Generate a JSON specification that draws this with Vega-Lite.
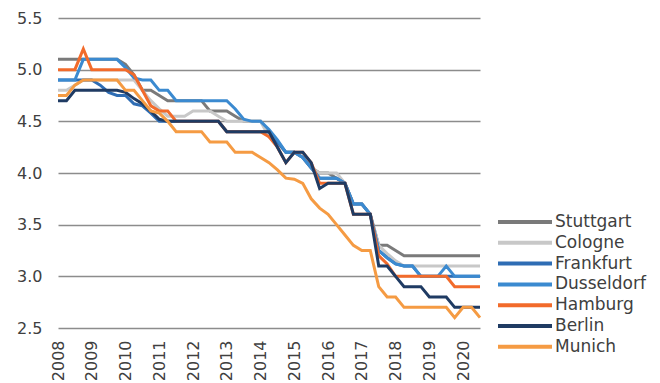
{
  "$schema": "https://vega.github.io/schema/vega-lite/v6.json",
  "width": 422,
  "height": 310,
  "autosize": {"type": "none"},
  "padding": {"left": 58, "top": 18, "right": 180, "bottom": 55},
  "background": "white",
  "config": {
    "view": {"stroke": null},
    "font": "DejaVu Sans",
    "axis": {"labelFont": "DejaVu Sans", "labelColor": "#404040", "labelFontSize": 16, "domain": false, "ticks": false},
    "legend": {"labelFont": "DejaVu Sans", "labelColor": "#404040", "labelFontSize": 17}
  },
  "data": {
    "values": [
      {"year":2008.0,"city":"Stuttgart","yield":5.1},{"year":2008.25,"city":"Stuttgart","yield":5.1},{"year":2008.5,"city":"Stuttgart","yield":5.1},{"year":2008.75,"city":"Stuttgart","yield":5.1},
      {"year":2009.0,"city":"Stuttgart","yield":5.1},{"year":2009.25,"city":"Stuttgart","yield":5.1},{"year":2009.5,"city":"Stuttgart","yield":5.1},{"year":2009.75,"city":"Stuttgart","yield":5.1},
      {"year":2010.0,"city":"Stuttgart","yield":5.05},{"year":2010.25,"city":"Stuttgart","yield":4.95},{"year":2010.5,"city":"Stuttgart","yield":4.8},{"year":2010.75,"city":"Stuttgart","yield":4.8},
      {"year":2011.0,"city":"Stuttgart","yield":4.75},{"year":2011.25,"city":"Stuttgart","yield":4.7},{"year":2011.5,"city":"Stuttgart","yield":4.7},{"year":2011.75,"city":"Stuttgart","yield":4.7},
      {"year":2012.0,"city":"Stuttgart","yield":4.7},{"year":2012.25,"city":"Stuttgart","yield":4.7},{"year":2012.5,"city":"Stuttgart","yield":4.6},{"year":2012.75,"city":"Stuttgart","yield":4.6},
      {"year":2013.0,"city":"Stuttgart","yield":4.6},{"year":2013.25,"city":"Stuttgart","yield":4.55},{"year":2013.5,"city":"Stuttgart","yield":4.5},{"year":2013.75,"city":"Stuttgart","yield":4.5},
      {"year":2014.0,"city":"Stuttgart","yield":4.5},{"year":2014.25,"city":"Stuttgart","yield":4.4},{"year":2014.5,"city":"Stuttgart","yield":4.3},{"year":2014.75,"city":"Stuttgart","yield":4.2},
      {"year":2015.0,"city":"Stuttgart","yield":4.2},{"year":2015.25,"city":"Stuttgart","yield":4.15},{"year":2015.5,"city":"Stuttgart","yield":4.05},{"year":2015.75,"city":"Stuttgart","yield":4.0},
      {"year":2016.0,"city":"Stuttgart","yield":4.0},{"year":2016.25,"city":"Stuttgart","yield":3.95},{"year":2016.5,"city":"Stuttgart","yield":3.9},{"year":2016.75,"city":"Stuttgart","yield":3.7},
      {"year":2017.0,"city":"Stuttgart","yield":3.7},{"year":2017.25,"city":"Stuttgart","yield":3.6},{"year":2017.5,"city":"Stuttgart","yield":3.3},{"year":2017.75,"city":"Stuttgart","yield":3.3},
      {"year":2018.0,"city":"Stuttgart","yield":3.25},{"year":2018.25,"city":"Stuttgart","yield":3.2},{"year":2018.5,"city":"Stuttgart","yield":3.2},{"year":2018.75,"city":"Stuttgart","yield":3.2},
      {"year":2019.0,"city":"Stuttgart","yield":3.2},{"year":2019.25,"city":"Stuttgart","yield":3.2},{"year":2019.5,"city":"Stuttgart","yield":3.2},{"year":2019.75,"city":"Stuttgart","yield":3.2},
      {"year":2020.0,"city":"Stuttgart","yield":3.2},{"year":2020.25,"city":"Stuttgart","yield":3.2},{"year":2020.5,"city":"Stuttgart","yield":3.2},

      {"year":2008.0,"city":"Cologne","yield":4.8},{"year":2008.25,"city":"Cologne","yield":4.8},{"year":2008.5,"city":"Cologne","yield":4.85},{"year":2008.75,"city":"Cologne","yield":4.9},
      {"year":2009.0,"city":"Cologne","yield":4.9},{"year":2009.25,"city":"Cologne","yield":4.9},{"year":2009.5,"city":"Cologne","yield":4.9},{"year":2009.75,"city":"Cologne","yield":4.9},
      {"year":2010.0,"city":"Cologne","yield":4.9},{"year":2010.25,"city":"Cologne","yield":4.9},{"year":2010.5,"city":"Cologne","yield":4.8},{"year":2010.75,"city":"Cologne","yield":4.7},
      {"year":2011.0,"city":"Cologne","yield":4.62},{"year":2011.25,"city":"Cologne","yield":4.55},{"year":2011.5,"city":"Cologne","yield":4.55},{"year":2011.75,"city":"Cologne","yield":4.55},
      {"year":2012.0,"city":"Cologne","yield":4.6},{"year":2012.25,"city":"Cologne","yield":4.6},{"year":2012.5,"city":"Cologne","yield":4.6},{"year":2012.75,"city":"Cologne","yield":4.55},
      {"year":2013.0,"city":"Cologne","yield":4.5},{"year":2013.25,"city":"Cologne","yield":4.5},{"year":2013.5,"city":"Cologne","yield":4.5},{"year":2013.75,"city":"Cologne","yield":4.5},
      {"year":2014.0,"city":"Cologne","yield":4.5},{"year":2014.25,"city":"Cologne","yield":4.35},{"year":2014.5,"city":"Cologne","yield":4.3},{"year":2014.75,"city":"Cologne","yield":4.2},
      {"year":2015.0,"city":"Cologne","yield":4.2},{"year":2015.25,"city":"Cologne","yield":4.15},{"year":2015.5,"city":"Cologne","yield":4.05},{"year":2015.75,"city":"Cologne","yield":4.0},
      {"year":2016.0,"city":"Cologne","yield":4.0},{"year":2016.25,"city":"Cologne","yield":4.0},{"year":2016.5,"city":"Cologne","yield":3.9},{"year":2016.75,"city":"Cologne","yield":3.7},
      {"year":2017.0,"city":"Cologne","yield":3.7},{"year":2017.25,"city":"Cologne","yield":3.6},{"year":2017.5,"city":"Cologne","yield":3.3},{"year":2017.75,"city":"Cologne","yield":3.22},
      {"year":2018.0,"city":"Cologne","yield":3.15},{"year":2018.25,"city":"Cologne","yield":3.1},{"year":2018.5,"city":"Cologne","yield":3.1},{"year":2018.75,"city":"Cologne","yield":3.1},
      {"year":2019.0,"city":"Cologne","yield":3.1},{"year":2019.25,"city":"Cologne","yield":3.1},{"year":2019.5,"city":"Cologne","yield":3.1},{"year":2019.75,"city":"Cologne","yield":3.1},
      {"year":2020.0,"city":"Cologne","yield":3.1},{"year":2020.25,"city":"Cologne","yield":3.1},{"year":2020.5,"city":"Cologne","yield":3.1},

      {"year":2008.0,"city":"Frankfurt","yield":4.9},{"year":2008.25,"city":"Frankfurt","yield":4.9},{"year":2008.5,"city":"Frankfurt","yield":4.9},{"year":2008.75,"city":"Frankfurt","yield":4.9},
      {"year":2009.0,"city":"Frankfurt","yield":4.9},{"year":2009.25,"city":"Frankfurt","yield":4.85},{"year":2009.5,"city":"Frankfurt","yield":4.78},{"year":2009.75,"city":"Frankfurt","yield":4.75},
      {"year":2010.0,"city":"Frankfurt","yield":4.75},{"year":2010.25,"city":"Frankfurt","yield":4.67},{"year":2010.5,"city":"Frankfurt","yield":4.65},{"year":2010.75,"city":"Frankfurt","yield":4.58},
      {"year":2011.0,"city":"Frankfurt","yield":4.5},{"year":2011.25,"city":"Frankfurt","yield":4.5},{"year":2011.5,"city":"Frankfurt","yield":4.5},{"year":2011.75,"city":"Frankfurt","yield":4.5},
      {"year":2012.0,"city":"Frankfurt","yield":4.5},{"year":2012.25,"city":"Frankfurt","yield":4.5},{"year":2012.5,"city":"Frankfurt","yield":4.5},{"year":2012.75,"city":"Frankfurt","yield":4.5},
      {"year":2013.0,"city":"Frankfurt","yield":4.4},{"year":2013.25,"city":"Frankfurt","yield":4.4},{"year":2013.5,"city":"Frankfurt","yield":4.4},{"year":2013.75,"city":"Frankfurt","yield":4.4},
      {"year":2014.0,"city":"Frankfurt","yield":4.4},{"year":2014.25,"city":"Frankfurt","yield":4.4},{"year":2014.5,"city":"Frankfurt","yield":4.3},{"year":2014.75,"city":"Frankfurt","yield":4.2},
      {"year":2015.0,"city":"Frankfurt","yield":4.2},{"year":2015.25,"city":"Frankfurt","yield":4.15},{"year":2015.5,"city":"Frankfurt","yield":4.05},{"year":2015.75,"city":"Frankfurt","yield":3.95},
      {"year":2016.0,"city":"Frankfurt","yield":3.95},{"year":2016.25,"city":"Frankfurt","yield":3.95},{"year":2016.5,"city":"Frankfurt","yield":3.9},{"year":2016.75,"city":"Frankfurt","yield":3.7},
      {"year":2017.0,"city":"Frankfurt","yield":3.7},{"year":2017.25,"city":"Frankfurt","yield":3.6},{"year":2017.5,"city":"Frankfurt","yield":3.25},{"year":2017.75,"city":"Frankfurt","yield":3.18},
      {"year":2018.0,"city":"Frankfurt","yield":3.12},{"year":2018.25,"city":"Frankfurt","yield":3.1},{"year":2018.5,"city":"Frankfurt","yield":3.1},{"year":2018.75,"city":"Frankfurt","yield":3.0},
      {"year":2019.0,"city":"Frankfurt","yield":3.0},{"year":2019.25,"city":"Frankfurt","yield":3.0},{"year":2019.5,"city":"Frankfurt","yield":3.0},{"year":2019.75,"city":"Frankfurt","yield":3.0},
      {"year":2020.0,"city":"Frankfurt","yield":3.0},{"year":2020.25,"city":"Frankfurt","yield":3.0},{"year":2020.5,"city":"Frankfurt","yield":3.0},

      {"year":2008.0,"city":"Dusseldorf","yield":4.9},{"year":2008.25,"city":"Dusseldorf","yield":4.9},{"year":2008.5,"city":"Dusseldorf","yield":4.9},{"year":2008.75,"city":"Dusseldorf","yield":5.1},
      {"year":2009.0,"city":"Dusseldorf","yield":5.1},{"year":2009.25,"city":"Dusseldorf","yield":5.1},{"year":2009.5,"city":"Dusseldorf","yield":5.1},{"year":2009.75,"city":"Dusseldorf","yield":5.1},
      {"year":2010.0,"city":"Dusseldorf","yield":5.02},{"year":2010.25,"city":"Dusseldorf","yield":4.92},{"year":2010.5,"city":"Dusseldorf","yield":4.9},{"year":2010.75,"city":"Dusseldorf","yield":4.9},
      {"year":2011.0,"city":"Dusseldorf","yield":4.8},{"year":2011.25,"city":"Dusseldorf","yield":4.8},{"year":2011.5,"city":"Dusseldorf","yield":4.7},{"year":2011.75,"city":"Dusseldorf","yield":4.7},
      {"year":2012.0,"city":"Dusseldorf","yield":4.7},{"year":2012.25,"city":"Dusseldorf","yield":4.7},{"year":2012.5,"city":"Dusseldorf","yield":4.7},{"year":2012.75,"city":"Dusseldorf","yield":4.7},
      {"year":2013.0,"city":"Dusseldorf","yield":4.7},{"year":2013.25,"city":"Dusseldorf","yield":4.62},{"year":2013.5,"city":"Dusseldorf","yield":4.52},{"year":2013.75,"city":"Dusseldorf","yield":4.5},
      {"year":2014.0,"city":"Dusseldorf","yield":4.5},{"year":2014.25,"city":"Dusseldorf","yield":4.42},{"year":2014.5,"city":"Dusseldorf","yield":4.32},{"year":2014.75,"city":"Dusseldorf","yield":4.2},
      {"year":2015.0,"city":"Dusseldorf","yield":4.2},{"year":2015.25,"city":"Dusseldorf","yield":4.15},{"year":2015.5,"city":"Dusseldorf","yield":4.05},{"year":2015.75,"city":"Dusseldorf","yield":3.95},
      {"year":2016.0,"city":"Dusseldorf","yield":3.95},{"year":2016.25,"city":"Dusseldorf","yield":3.95},{"year":2016.5,"city":"Dusseldorf","yield":3.9},{"year":2016.75,"city":"Dusseldorf","yield":3.7},
      {"year":2017.0,"city":"Dusseldorf","yield":3.7},{"year":2017.25,"city":"Dusseldorf","yield":3.6},{"year":2017.5,"city":"Dusseldorf","yield":3.25},{"year":2017.75,"city":"Dusseldorf","yield":3.18},
      {"year":2018.0,"city":"Dusseldorf","yield":3.12},{"year":2018.25,"city":"Dusseldorf","yield":3.1},{"year":2018.5,"city":"Dusseldorf","yield":3.1},{"year":2018.75,"city":"Dusseldorf","yield":3.0},
      {"year":2019.0,"city":"Dusseldorf","yield":3.0},{"year":2019.25,"city":"Dusseldorf","yield":3.0},{"year":2019.5,"city":"Dusseldorf","yield":3.1},{"year":2019.75,"city":"Dusseldorf","yield":3.0},
      {"year":2020.0,"city":"Dusseldorf","yield":3.0},{"year":2020.25,"city":"Dusseldorf","yield":3.0},{"year":2020.5,"city":"Dusseldorf","yield":3.0},

      {"year":2008.0,"city":"Hamburg","yield":5.0},{"year":2008.25,"city":"Hamburg","yield":5.0},{"year":2008.5,"city":"Hamburg","yield":5.0},{"year":2008.75,"city":"Hamburg","yield":5.2},
      {"year":2009.0,"city":"Hamburg","yield":5.0},{"year":2009.25,"city":"Hamburg","yield":5.0},{"year":2009.5,"city":"Hamburg","yield":5.0},{"year":2009.75,"city":"Hamburg","yield":5.0},
      {"year":2010.0,"city":"Hamburg","yield":5.0},{"year":2010.25,"city":"Hamburg","yield":4.95},{"year":2010.5,"city":"Hamburg","yield":4.8},{"year":2010.75,"city":"Hamburg","yield":4.65},
      {"year":2011.0,"city":"Hamburg","yield":4.6},{"year":2011.25,"city":"Hamburg","yield":4.6},{"year":2011.5,"city":"Hamburg","yield":4.5},{"year":2011.75,"city":"Hamburg","yield":4.5},
      {"year":2012.0,"city":"Hamburg","yield":4.5},{"year":2012.25,"city":"Hamburg","yield":4.5},{"year":2012.5,"city":"Hamburg","yield":4.5},{"year":2012.75,"city":"Hamburg","yield":4.5},
      {"year":2013.0,"city":"Hamburg","yield":4.4},{"year":2013.25,"city":"Hamburg","yield":4.4},{"year":2013.5,"city":"Hamburg","yield":4.4},{"year":2013.75,"city":"Hamburg","yield":4.4},
      {"year":2014.0,"city":"Hamburg","yield":4.4},{"year":2014.25,"city":"Hamburg","yield":4.35},{"year":2014.5,"city":"Hamburg","yield":4.25},{"year":2014.75,"city":"Hamburg","yield":4.1},
      {"year":2015.0,"city":"Hamburg","yield":4.2},{"year":2015.25,"city":"Hamburg","yield":4.2},{"year":2015.5,"city":"Hamburg","yield":4.1},{"year":2015.75,"city":"Hamburg","yield":3.9},
      {"year":2016.0,"city":"Hamburg","yield":3.9},{"year":2016.25,"city":"Hamburg","yield":3.9},{"year":2016.5,"city":"Hamburg","yield":3.9},{"year":2016.75,"city":"Hamburg","yield":3.6},
      {"year":2017.0,"city":"Hamburg","yield":3.6},{"year":2017.25,"city":"Hamburg","yield":3.6},{"year":2017.5,"city":"Hamburg","yield":3.2},{"year":2017.75,"city":"Hamburg","yield":3.12},
      {"year":2018.0,"city":"Hamburg","yield":3.0},{"year":2018.25,"city":"Hamburg","yield":3.0},{"year":2018.5,"city":"Hamburg","yield":3.0},{"year":2018.75,"city":"Hamburg","yield":3.0},
      {"year":2019.0,"city":"Hamburg","yield":3.0},{"year":2019.25,"city":"Hamburg","yield":3.0},{"year":2019.5,"city":"Hamburg","yield":3.0},{"year":2019.75,"city":"Hamburg","yield":2.9},
      {"year":2020.0,"city":"Hamburg","yield":2.9},{"year":2020.25,"city":"Hamburg","yield":2.9},{"year":2020.5,"city":"Hamburg","yield":2.9},

      {"year":2008.0,"city":"Berlin","yield":4.7},{"year":2008.25,"city":"Berlin","yield":4.7},{"year":2008.5,"city":"Berlin","yield":4.8},{"year":2008.75,"city":"Berlin","yield":4.8},
      {"year":2009.0,"city":"Berlin","yield":4.8},{"year":2009.25,"city":"Berlin","yield":4.8},{"year":2009.5,"city":"Berlin","yield":4.8},{"year":2009.75,"city":"Berlin","yield":4.8},
      {"year":2010.0,"city":"Berlin","yield":4.78},{"year":2010.25,"city":"Berlin","yield":4.72},{"year":2010.5,"city":"Berlin","yield":4.67},{"year":2010.75,"city":"Berlin","yield":4.6},
      {"year":2011.0,"city":"Berlin","yield":4.52},{"year":2011.25,"city":"Berlin","yield":4.5},{"year":2011.5,"city":"Berlin","yield":4.5},{"year":2011.75,"city":"Berlin","yield":4.5},
      {"year":2012.0,"city":"Berlin","yield":4.5},{"year":2012.25,"city":"Berlin","yield":4.5},{"year":2012.5,"city":"Berlin","yield":4.5},{"year":2012.75,"city":"Berlin","yield":4.5},
      {"year":2013.0,"city":"Berlin","yield":4.4},{"year":2013.25,"city":"Berlin","yield":4.4},{"year":2013.5,"city":"Berlin","yield":4.4},{"year":2013.75,"city":"Berlin","yield":4.4},
      {"year":2014.0,"city":"Berlin","yield":4.4},{"year":2014.25,"city":"Berlin","yield":4.4},{"year":2014.5,"city":"Berlin","yield":4.25},{"year":2014.75,"city":"Berlin","yield":4.1},
      {"year":2015.0,"city":"Berlin","yield":4.2},{"year":2015.25,"city":"Berlin","yield":4.2},{"year":2015.5,"city":"Berlin","yield":4.1},{"year":2015.75,"city":"Berlin","yield":3.85},
      {"year":2016.0,"city":"Berlin","yield":3.9},{"year":2016.25,"city":"Berlin","yield":3.9},{"year":2016.5,"city":"Berlin","yield":3.9},{"year":2016.75,"city":"Berlin","yield":3.6},
      {"year":2017.0,"city":"Berlin","yield":3.6},{"year":2017.25,"city":"Berlin","yield":3.6},{"year":2017.5,"city":"Berlin","yield":3.1},{"year":2017.75,"city":"Berlin","yield":3.1},
      {"year":2018.0,"city":"Berlin","yield":3.0},{"year":2018.25,"city":"Berlin","yield":2.9},{"year":2018.5,"city":"Berlin","yield":2.9},{"year":2018.75,"city":"Berlin","yield":2.9},
      {"year":2019.0,"city":"Berlin","yield":2.8},{"year":2019.25,"city":"Berlin","yield":2.8},{"year":2019.5,"city":"Berlin","yield":2.8},{"year":2019.75,"city":"Berlin","yield":2.7},
      {"year":2020.0,"city":"Berlin","yield":2.7},{"year":2020.25,"city":"Berlin","yield":2.7},{"year":2020.5,"city":"Berlin","yield":2.7},

      {"year":2008.0,"city":"Munich","yield":4.75},{"year":2008.25,"city":"Munich","yield":4.75},{"year":2008.5,"city":"Munich","yield":4.85},{"year":2008.75,"city":"Munich","yield":4.9},
      {"year":2009.0,"city":"Munich","yield":4.9},{"year":2009.25,"city":"Munich","yield":4.9},{"year":2009.5,"city":"Munich","yield":4.9},{"year":2009.75,"city":"Munich","yield":4.9},
      {"year":2010.0,"city":"Munich","yield":4.8},{"year":2010.25,"city":"Munich","yield":4.8},{"year":2010.5,"city":"Munich","yield":4.7},{"year":2010.75,"city":"Munich","yield":4.6},
      {"year":2011.0,"city":"Munich","yield":4.58},{"year":2011.25,"city":"Munich","yield":4.5},{"year":2011.5,"city":"Munich","yield":4.4},{"year":2011.75,"city":"Munich","yield":4.4},
      {"year":2012.0,"city":"Munich","yield":4.4},{"year":2012.25,"city":"Munich","yield":4.4},{"year":2012.5,"city":"Munich","yield":4.3},{"year":2012.75,"city":"Munich","yield":4.3},
      {"year":2013.0,"city":"Munich","yield":4.3},{"year":2013.25,"city":"Munich","yield":4.2},{"year":2013.5,"city":"Munich","yield":4.2},{"year":2013.75,"city":"Munich","yield":4.2},
      {"year":2014.0,"city":"Munich","yield":4.15},{"year":2014.25,"city":"Munich","yield":4.1},{"year":2014.5,"city":"Munich","yield":4.03},{"year":2014.75,"city":"Munich","yield":3.95},
      {"year":2015.0,"city":"Munich","yield":3.94},{"year":2015.25,"city":"Munich","yield":3.9},{"year":2015.5,"city":"Munich","yield":3.75},{"year":2015.75,"city":"Munich","yield":3.66},
      {"year":2016.0,"city":"Munich","yield":3.6},{"year":2016.25,"city":"Munich","yield":3.5},{"year":2016.5,"city":"Munich","yield":3.4},{"year":2016.75,"city":"Munich","yield":3.3},
      {"year":2017.0,"city":"Munich","yield":3.25},{"year":2017.25,"city":"Munich","yield":3.25},{"year":2017.5,"city":"Munich","yield":2.9},{"year":2017.75,"city":"Munich","yield":2.8},
      {"year":2018.0,"city":"Munich","yield":2.8},{"year":2018.25,"city":"Munich","yield":2.7},{"year":2018.5,"city":"Munich","yield":2.7},{"year":2018.75,"city":"Munich","yield":2.7},
      {"year":2019.0,"city":"Munich","yield":2.7},{"year":2019.25,"city":"Munich","yield":2.7},{"year":2019.5,"city":"Munich","yield":2.7},{"year":2019.75,"city":"Munich","yield":2.6},
      {"year":2020.0,"city":"Munich","yield":2.7},{"year":2020.25,"city":"Munich","yield":2.7},{"year":2020.5,"city":"Munich","yield":2.6}
    ]
  },
  "mark": {"type": "line", "strokeWidth": 3, "strokeJoin": "miter", "clip": false},
  "encoding": {
    "x": {
      "field": "year",
      "type": "quantitative",
      "scale": {"domain": [2008, 2020.5], "nice": false, "zero": false},
      "axis": {
        "title": null,
        "grid": false,
        "values": [2008, 2009, 2010, 2011, 2012, 2013, 2014, 2015, 2016, 2017, 2018, 2019, 2020],
        "format": "d",
        "labelAngle": -90,
        "labelPadding": 12,
        "labelFlush": false,
        "labelOverlap": false
      }
    },
    "y": {
      "field": "yield",
      "type": "quantitative",
      "scale": {"domain": [2.5, 5.5], "nice": false, "zero": false},
      "axis": {
        "title": null,
        "values": [2.5, 3.0, 3.5, 4.0, 4.5, 5.0, 5.5],
        "format": ".1f",
        "grid": true,
        "gridColor": "#8c8c8c",
        "gridWidth": 1.5,
        "labelPadding": 16,
        "labelFlush": false
      }
    },
    "color": {
      "field": "city",
      "type": "nominal",
      "sort": ["Stuttgart", "Cologne", "Frankfurt", "Dusseldorf", "Hamburg", "Berlin", "Munich"],
      "scale": {
        "domain": ["Stuttgart", "Cologne", "Frankfurt", "Dusseldorf", "Hamburg", "Berlin", "Munich"],
        "range": ["#7a7a7a", "#c8c8c8", "#2e6db4", "#3b8ad0", "#f26b2b", "#1f3b63", "#f59b43"]
      },
      "legend": {
        "title": null,
        "orient": "none",
        "legendX": 429,
        "legendY": 193,
        "padding": 0,
        "symbolType": "M0,0H6",
        "symbolSize": 324,
        "symbolStrokeWidth": 4,
        "symbolStrokeCap": "butt",
        "symbolOpacity": 1,
        "labelOffset": 46,
        "rowPadding": 1.8
      }
    }
  }
}
